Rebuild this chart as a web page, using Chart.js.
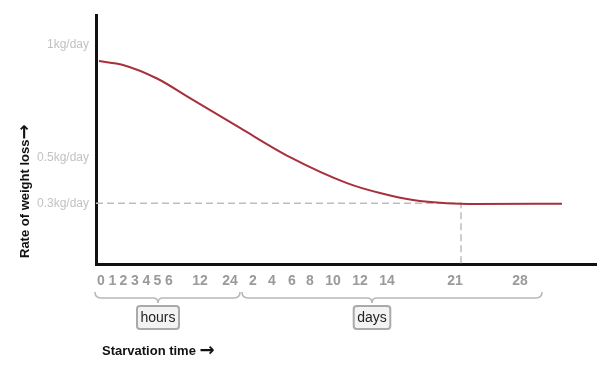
<!DOCTYPE html>
<html>
<head>
<meta charset="utf-8">
<script src="https://cdn.jsdelivr.net/npm/chart.js@4"></script>
<style>
  html, body { margin: 0; padding: 0; background: #fff; }
  #wrap { width: 600px; height: 369px; }
</style>
</head>
<body>
<div id="wrap"><canvas id="starvation-chart" width="600" height="369"></canvas></div>
<script>
// time axis is not linear: hours then days, so positions are in axis units (0-100)
let tickLabels = ["0","1","2","3","4","5","6","12","24","2","4","6","8","10","12","14","21","28"];
let tickUnits  = [1.0, 3.3, 5.5, 7.8, 10.1, 12.3, 14.6, 20.8, 26.8, 31.4, 35.2, 39.2, 42.8, 47.4, 52.8, 58.2, 71.8, 84.8];

let rateLabels = [1, 0.5, 0.3];

// weight loss rate (kg/day)
let curveX = [0.6, 5.4, 12.2, 18.8, 28.8, 38.8, 50.2, 56.8, 63.4, 70.2, 76.0, 93.2];
let curveY = [0.929, 0.912, 0.852, 0.765, 0.633, 0.504, 0.389, 0.345, 0.314, 0.300, 0.297, 0.298];

// point where loss levels off (21 days, 0.3kg/day)
let plateauX = 73.0;
let plateauY = 0.3;

let groups = [
  { label: "hours", from: -0.2, to: 28.8, tip: 12.4 },
  { label: "days",  from: 29.2, to: 89.2, tip: 55.2 }
];

let xTitle = "Starvation time";
let yTitle = "Rate of weight loss";
let arrow = "\u2192";

let yMin = 0.031, yMax = 1.133;

let curve = curveX.map((x, i) => ({ x: x, y: curveY[i] }));
let guide = [
  { x: 0, y: plateauY },
  { x: plateauX, y: plateauY },
  { x: plateauX, y: yMin }
];

let textFont = "bold 13px 'Liberation Sans', Arial, sans-serif";
let arrowFont = "bold 18px 'DejaVu Sans', sans-serif";

let bracketPlugin = {
  id: "brackets",
  afterDraw(chart) {
    let ctx = chart.ctx;
    let xs = chart.scales.x;
    let yLine = 298, yEnd = 292, yTip = 303;
    ctx.save();
    groups.forEach(g => {
      let a = xs.getPixelForValue(g.from);
      let b = xs.getPixelForValue(g.to);
      let t = xs.getPixelForValue(g.tip);
      ctx.strokeStyle = "#b8b8b8";
      ctx.lineWidth = 1.6;
      ctx.beginPath();
      ctx.moveTo(a, yEnd);
      ctx.quadraticCurveTo(a, yLine, a + 6, yLine);
      ctx.lineTo(t - 5, yLine);
      ctx.quadraticCurveTo(t, yLine, t, yTip);
      ctx.quadraticCurveTo(t, yLine, t + 5, yLine);
      ctx.lineTo(b - 6, yLine);
      ctx.quadraticCurveTo(b, yLine, b, yEnd);
      ctx.stroke();

      ctx.font = "14px 'Liberation Sans', Arial, sans-serif";
      let w = ctx.measureText(g.label).width + 7;
      let h = 23;
      let bx = t - w / 2, by = 306;
      ctx.beginPath();
      ctx.roundRect(bx, by, w, h, 3);
      ctx.fillStyle = "#f3f3f3";
      ctx.fill();
      ctx.lineWidth = 2;
      ctx.strokeStyle = "#aaaaaa";
      ctx.stroke();
      ctx.fillStyle = "#222";
      ctx.textAlign = "center";
      ctx.textBaseline = "middle";
      ctx.fillText(g.label, t, by + h / 2 + 1);
    });

    // axis titles, the arrow taken from a font with a bolder glyph
    ctx.fillStyle = "#111";
    ctx.textAlign = "left";
    ctx.textBaseline = "middle";
    ctx.font = textFont;
    let tw = ctx.measureText(xTitle + " ").width;
    let x0 = chart.chartArea.left + 6;
    ctx.fillText(xTitle + " ", x0, 351);
    ctx.font = arrowFont;
    ctx.fillText(arrow, x0 + tw, 351);

    ctx.translate(25, chart.chartArea.bottom - 6);
    ctx.rotate(-Math.PI / 2);
    ctx.font = textFont;
    let yw = ctx.measureText(yTitle).width;
    ctx.fillText(yTitle, 0, 0);
    ctx.font = arrowFont;
    ctx.fillText(arrow, yw, 0);
    ctx.restore();
  }
};

let chart_canvas = document.getElementById("starvation-chart");

let starvation_chart = new Chart(chart_canvas, {
  type: "line",
  data: {
    datasets: [
      {
        data: curve,
        borderColor: "#a8303c",
        borderWidth: 2,
        pointRadius: 0,
        cubicInterpolationMode: "monotone",
        order: 1
      },
      {
        data: guide,
        borderColor: "#bdbdbd",
        borderWidth: 1.5,
        borderDash: [7, 4],
        pointRadius: 0,
        tension: 0,
        order: 2
      }
    ]
  },
  options: {
    responsive: false,
    animation: false,
    layout: { padding: { top: 15, right: 4, left: 0, bottom: 0 } },
    plugins: {
      legend: { display: false },
      tooltip: { enabled: false }
    },
    scales: {
      x: {
        type: "linear",
        min: 0,
        max: 100,
        afterFit(scale) { scale.height = 105; },
        afterBuildTicks(scale) { scale.ticks = tickUnits.map(v => ({ value: v })); },
        grid: { display: false, drawTicks: false },
        border: { display: true, color: "#111", width: 3 },
        ticks: {
          autoSkip: false,
          maxRotation: 0,
          padding: 9,
          color: "#9a9a9a",
          font: { family: "'Liberation Sans', Arial, sans-serif", size: 14, weight: "bold" },
          callback(value, index) { return tickLabels[index]; }
        }
      },
      y: {
        min: yMin,
        max: yMax,
        afterFit(scale) { scale.width = 96; },
        afterBuildTicks(scale) { scale.ticks = rateLabels.map(v => ({ value: v })); },
        grid: { display: false, drawTicks: false },
        border: { display: true, color: "#111", width: 3 },
        ticks: {
          padding: 7,
          color: "#c2c2c2",
          font: { family: "'Liberation Sans', Arial, sans-serif", size: 12 },
          callback(value) { return value + "kg/day"; }
        }
      }
    }
  },
  plugins: [bracketPlugin]
});
</script>
</body>
</html>
